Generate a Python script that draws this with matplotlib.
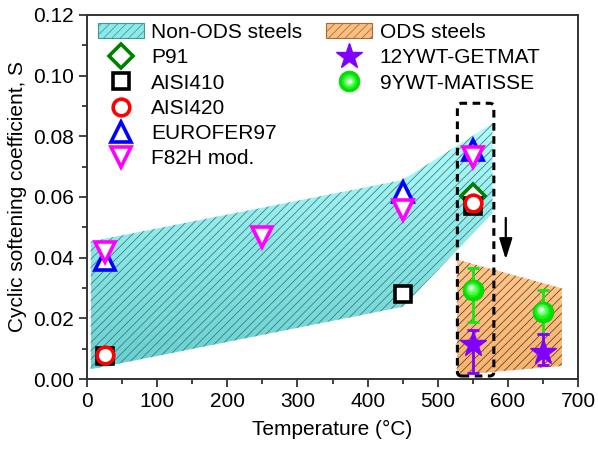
import numpy as np
import matplotlib
matplotlib.use("Agg")
import matplotlib.pyplot as plt
import matplotlib.transforms as mtransforms
from matplotlib.patches import Polygon, Patch, FancyBboxPatch, FancyArrowPatch
from matplotlib.lines import Line2D
from matplotlib.legend_handler import HandlerTuple

plt.rcParams['font.family'] = ['Liberation Sans', 'DejaVu Sans']
plt.rcParams['hatch.linewidth'] = 0.55

# ---- data -------------------------------------------------------------
p91_T = [550]
p91_S = [0.0603]

aisi410_T = [25, 450, 550]
aisi410_S = [0.0075, 0.0280, 0.0570]

aisi420_T = [25, 550]
aisi420_S = [0.0080, 0.0579]

eurofer_T = [25, 450, 550]
eurofer_S = [0.0392, 0.0617, 0.0755]

f82h_T = [25, 250, 450, 550]
f82h_S = [0.0420, 0.0469, 0.0557, 0.0733]

getmat_T = [550, 650]
getmat_S = [0.0114, 0.0090]
getmat_err_lo = [0.0093, 0.0044]
getmat_err_hi = [0.0048, 0.0060]

matisse_T = [550, 650]
matisse_S = [0.0293, 0.0222]
matisse_err_lo = [0.0106, 0.0072]
matisse_err_hi = [0.0072, 0.0073]

# scatter bands (temperature, S)
non_ods_band = [(5, 0.0032), (5, 0.0453), (450, 0.0656), (578, 0.0843),
                (578, 0.0546), (450, 0.0238)]
ods_band = [(527, 0.0013), (527, 0.0394), (677, 0.0299), (677, 0.0043)]

xticks = [0, 100, 200, 300, 400, 500, 600, 700]
yticks = [0.00, 0.02, 0.04, 0.06, 0.08, 0.10, 0.12]

# ---- figure -----------------------------------------------------------
fig = plt.figure(figsize=(5.98, 4.49), dpi=100)
ax = fig.add_axes([0.1455, 0.1559, 0.8211, 0.8107])
FS = 15


def gradient_band(points, c_top, c_bot, hatch_color):
    poly = Polygon(points, closed=True, transform=ax.transData,
                   facecolor='none', edgecolor='none', zorder=1)
    ax.add_patch(poly)
    xs = [p[0] for p in points]
    ys = [p[1] for p in points]
    t = np.linspace(0, 1, 256)[:, None]
    c_top = np.array(matplotlib.colors.to_rgb(c_top))
    c_bot = np.array(matplotlib.colors.to_rgb(c_bot))
    img = (1 - t)[:, :, None] * c_top + t[:, :, None] * c_bot
    img = np.repeat(img, 2, axis=1)
    im = ax.imshow(img, extent=[min(xs), max(xs), min(ys), max(ys)],
                   origin='upper', aspect='auto', zorder=1,
                   interpolation='bilinear')
    im.set_clip_path(poly)
    hatch = Polygon(points, closed=True, facecolor='none',
                    edgecolor=hatch_color, linewidth=0, hatch='////',
                    zorder=1.5)
    ax.add_patch(hatch)


gradient_band(non_ods_band, '#b0ffff', '#66d0d0', '#4a7070')
gradient_band(ods_band, '#ffc78c', '#f8b470', '#5a4028')

# dashed frame around the 550 °C group
xr = 700 / 491.0
yr = 0.12 / 364.0
frame = FancyBboxPatch((528, 0.0010), 52, 0.0899,
                       boxstyle="round,pad=0,rounding_size=6",
                       mutation_aspect=yr / xr,
                       facecolor='none', edgecolor='black', linewidth=2.2,
                       linestyle=(0, (2.5, 1.8)), zorder=5)
ax.add_patch(frame)

arrow = FancyArrowPatch((597, 0.0540), (597, 0.0385),
                        arrowstyle='-|>,head_length=0.9,head_width=0.28',
                        mutation_scale=14, color='black', linewidth=1.6,
                        zorder=5)
ax.add_patch(arrow)

# ---- markers ----------------------------------------------------------
mew = 2.6
ax.plot(p91_T, p91_S, linestyle='none', marker='D', ms=12, mfc='white',
        mec='#007f00', mew=mew, zorder=6)
ax.plot(aisi410_T, aisi410_S, linestyle='none', marker='s', ms=11,
        mfc='white', mec='black', mew=mew, zorder=6)
ax.plot(aisi420_T, aisi420_S, linestyle='none', marker='o', ms=12,
        mfc='white', mec='#ff0000', mew=mew, zorder=7)
ax.plot(eurofer_T, eurofer_S, linestyle='none', marker='^', ms=14,
        mfc='white', mec='#0000ff', mew=mew, zorder=6)
ax.plot(f82h_T, f82h_S, linestyle='none', marker='v', ms=14,
        mfc='white', mec='#ff00ff', mew=mew, zorder=7)

violet = '#8000ff'
green = '#10e810'
ax.errorbar(getmat_T, getmat_S, yerr=[getmat_err_lo, getmat_err_hi],
            fmt='*', ms=19, mfc=violet, mec=violet, ecolor=violet,
            elinewidth=2.0, capsize=4, capthick=2.0, zorder=8)
ax.errorbar(matisse_T, matisse_S, yerr=[matisse_err_lo, matisse_err_hi],
            fmt='none', ecolor=green, elinewidth=2.0, capsize=4,
            capthick=2.0, zorder=7)

# shaded spheres
ax.plot(matisse_T, matisse_S, linestyle='none', marker='o', ms=15,
        mfc='#00e000', mec='#00d000', mew=0.5, zorder=9)
shade = [(11, '#20f020'), (8, '#50ff50'), (5.5, '#90ff90'),
         (3.5, '#d0ffd0'), (2, '#ffffff')]
for k, (s, c) in enumerate(shade):
    off = mtransforms.offset_copy(ax.transData, fig=fig,
                                  x=-0.6 * (k + 1), y=0.7 * (k + 1),
                                  units='dots')
    ax.plot(matisse_T, matisse_S, linestyle='none', marker='o', ms=s,
            mfc=c, mec='none', transform=off, zorder=9)

# ---- axes styling -----------------------------------------------------
ax.set_xlim(0, 700)
ax.set_ylim(0, 0.12)
ax.set_xticks(xticks)
ax.set_yticks(yticks)
ax.set_xticks(np.arange(50, 700, 100), minor=True)
ax.set_yticks(np.arange(0.01, 0.12, 0.02), minor=True)
ax.set_yticklabels([f"{v:.2f}" for v in yticks])
ax.tick_params(which='both', direction='out', top=False, right=False,
               labelsize=FS, width=1.3, color='#333333')
ax.tick_params(which='major', length=6)
ax.tick_params(which='minor', length=3.5)
for sp in ax.spines.values():
    sp.set_linewidth(1.4)
    sp.set_color('#333333')
ax.set_xlabel('Temperature (°C)', fontsize=FS, labelpad=6)
ax.set_ylabel('Cyclic softening coefficient, S', fontsize=FS, labelpad=4)

# ---- legends ----------------------------------------------------------
cyan_patch = Patch(facecolor='#8ee8e8', edgecolor='#3a9a9a', hatch='////',
                   linewidth=0.8)
orange_patch = Patch(facecolor='#fdbf80', edgecolor='#a06a3a', hatch='////',
                     linewidth=0.8)
h_p91 = Line2D([], [], linestyle='none', marker='D', ms=12, mfc='white',
               mec='#007f00', mew=mew)
h_410 = Line2D([], [], linestyle='none', marker='s', ms=11, mfc='white',
               mec='black', mew=mew)
h_420 = Line2D([], [], linestyle='none', marker='o', ms=12, mfc='white',
               mec='#ff0000', mew=mew)
h_euro = Line2D([], [], linestyle='none', marker='^', ms=14, mfc='white',
                mec='#0000ff', mew=mew)
h_f82 = Line2D([], [], linestyle='none', marker='v', ms=14, mfc='white',
               mec='#ff00ff', mew=mew)
h_getmat = Line2D([], [], linestyle='none', marker='*', ms=19, mfc=violet,
                  mec=violet)
ball = [Line2D([], [], linestyle='none', marker='o', ms=15, mfc='#00e000',
               mec='#00d000', mew=0.5)]
for s, c in shade:
    ball.append(Line2D([], [], linestyle='none', marker='o', ms=s, mfc=c,
                       mec='none'))
h_matisse = tuple(ball)

common = dict(frameon=False, fontsize=FS, handlelength=2.2,
              handleheight=0.7, labelspacing=0.30, handletextpad=0.35,
              borderaxespad=0.3, borderpad=0.0)
leg1 = ax.legend([cyan_patch, h_p91, h_410, h_420, h_euro, h_f82],
                 ['Non-ODS steels', 'P91', 'AISI410', 'AISI420',
                  'EUROFER97', 'F82H mod.'],
                 loc='upper left', bbox_to_anchor=(0.009, 0.995), **common)
ax.add_artist(leg1)
ax.legend([orange_patch, h_getmat, h_matisse],
          ['ODS steels', '12YWT-GETMAT', '9YWT-MATISSE'],
          loc='upper left', bbox_to_anchor=(0.475, 0.995),
          handler_map={tuple: HandlerTuple(ndivide=1, pad=0)}, **common)

fig.savefig('out.png', dpi=100)
